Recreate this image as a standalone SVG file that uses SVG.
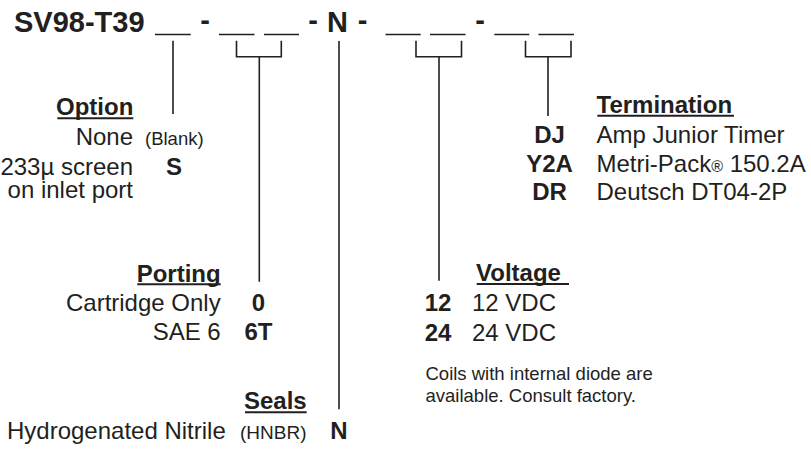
<svg xmlns="http://www.w3.org/2000/svg" width="811" height="450" viewBox="0 0 811 450">
<style>
text{font-family:"Liberation Sans",Arial,Helvetica,sans-serif;fill:#231f20}
.t{font-size:29px;font-weight:bold}
.d{font-size:29px;font-weight:bold;text-anchor:middle}
.h{font-size:24px;font-weight:bold}
.b{font-size:24px}
.c{font-size:24px;font-weight:bold;text-anchor:middle}
.s{font-size:18.5px}
.e{text-anchor:end}
.ln{stroke:#231f20;stroke-width:1.6;fill:none}
.ul{stroke:#231f20;stroke-width:2}
</style>
<rect width="811" height="450" fill="#fff"/>
<g id="part-number">
<text class="t" x="14" y="32">SV98-T39</text>
<text class="d" x="205" y="30">-</text>
<text class="d" x="313" y="30">-</text>
<text class="d" x="337.5" y="32">N</text>
<text class="d" x="362.5" y="30">-</text>
<text class="d" x="480" y="30">-</text>
<path class="ln" d="M155,34.5H190.7 M219,34.5H254.5 M264,34.5H299 M385.5,34.5H420.7 M430,34.5H465.5 M494.3,34.5H529.3 M538.5,34.5H574"/>
</g>
<g id="connectors" class="ln">
<path d="M173,40.7V114"/>
<path d="M236.5,40.7V56.7H281.3V40.7 M259.3,56.7V281.7"/>
<path d="M339,41V409.3"/>
<path d="M416,40.7V56.7H461.5V40.7 M439,56.7V280.7"/>
<path d="M525.5,40.7V56.7H571V40.7 M548,56.7V116"/>
</g>
<g id="option">
<text class="h e" x="133.3" y="115">Option</text>
<line class="ul" x1="57.3" y1="118.3" x2="133.3" y2="118.3"/>
<text class="b e" x="133" y="145">None</text>
<text class="s" x="145" y="145">(Blank)</text>
<text class="b e" x="133" y="174.5">233µ screen</text>
<text class="b e" x="133" y="198">on inlet port</text>
<text class="c" x="174" y="174.5">S</text>
</g>
<g id="porting">
<text class="h e" x="220.7" y="281.5">Porting</text>
<line class="ul" x1="137.3" y1="284.3" x2="220.7" y2="284.3"/>
<text class="b e" x="220.7" y="310.5">Cartridge Only</text>
<text class="c" x="258.5" y="310.5">0</text>
<text class="b e" x="220.7" y="340">SAE 6</text>
<text class="c" x="258.5" y="340">6T</text>
</g>
<g id="seals">
<text class="h e" x="306.7" y="408.5">Seals</text>
<line class="ul" x1="245" y1="412.3" x2="306.7" y2="412.3"/>
<text class="b" x="7" y="439">Hydrogenated Nitrile</text>
<text font-size="19" x="240" y="439">(HNBR)</text>
<text class="c" x="339" y="439">N</text>
</g>
<g id="voltage">
<text class="h" x="476" y="281">Voltage</text>
<line class="ul" x1="476.7" y1="284" x2="569" y2="284"/>
<text class="c" x="438" y="311">12</text>
<text class="b" x="472" y="311">12 VDC</text>
<text class="c" x="438" y="340.5">24</text>
<text class="b" x="472" y="340.5">24 VDC</text>
</g>
<g id="note">
<text class="s" x="425.5" y="380">Coils with internal diode are</text>
<text class="s" x="425.5" y="401.5">available. Consult factory.</text>
</g>
<g id="termination">
<text class="h" x="596.5" y="113">Termination</text>
<line class="ul" x1="597.3" y1="115.8" x2="734" y2="115.8"/>
<text class="c" x="549.5" y="142.5">DJ</text>
<text class="b" x="596.5" y="142.5">Amp Junior Timer</text>
<text class="c" x="549.5" y="171.5">Y2A</text>
<text class="b" x="596.5" y="171.5">Metri-Pack<tspan font-size="16">®</tspan> 150.2A</text>
<text class="c" x="549.5" y="200">DR</text>
<text class="b" x="596.5" y="200">Deutsch DT04-2P</text>
</g>
</svg>
